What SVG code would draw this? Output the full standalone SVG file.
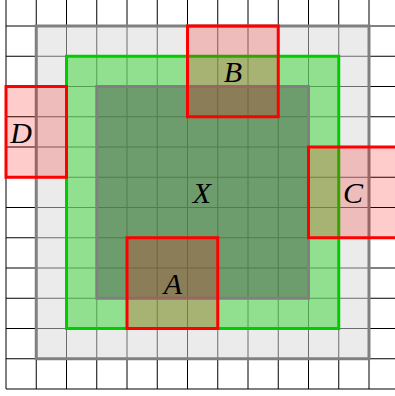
<svg xmlns="http://www.w3.org/2000/svg" width="395" height="396" viewBox="0 0 395 396">
<style>
.grid line{stroke:#000;stroke-width:1}
.outer{fill:#d7d7d7;fill-opacity:0.5;stroke:#808080;stroke-width:3}
.mid{fill:#35d535;fill-opacity:0.5;stroke:#00cc00;stroke-width:3}
.inner{fill:#4a5a4a;fill-opacity:0.5;stroke:#808080;stroke-width:3}
.red{fill:#ff0000;fill-opacity:0.2;stroke:#ff0000;stroke-width:3}
.lbl{font-family:"Liberation Serif","DejaVu Serif",serif;font-style:italic;font-size:30px;fill:#000;text-anchor:middle}
</style>
<rect width="395" height="396" fill="#fff"/>
<g class="grid">
<line x1="6" y1="0" x2="6" y2="389"/>
<line x1="36.25" y1="0" x2="36.25" y2="389"/>
<line x1="66.5" y1="0" x2="66.5" y2="389"/>
<line x1="96.75" y1="0" x2="96.75" y2="389"/>
<line x1="127" y1="0" x2="127" y2="389"/>
<line x1="157.25" y1="0" x2="157.25" y2="389"/>
<line x1="187.5" y1="0" x2="187.5" y2="389"/>
<line x1="217.75" y1="0" x2="217.75" y2="389"/>
<line x1="248" y1="0" x2="248" y2="389"/>
<line x1="278.25" y1="0" x2="278.25" y2="389"/>
<line x1="308.5" y1="0" x2="308.5" y2="389"/>
<line x1="338.75" y1="0" x2="338.75" y2="389"/>
<line x1="369" y1="0" x2="369" y2="389"/>
<line x1="6" y1="26" x2="395" y2="26"/>
<line x1="6" y1="56.25" x2="395" y2="56.25"/>
<line x1="6" y1="86.5" x2="395" y2="86.5"/>
<line x1="6" y1="116.75" x2="395" y2="116.75"/>
<line x1="6" y1="147" x2="395" y2="147"/>
<line x1="6" y1="177.25" x2="395" y2="177.25"/>
<line x1="6" y1="207.5" x2="395" y2="207.5"/>
<line x1="6" y1="237.75" x2="395" y2="237.75"/>
<line x1="6" y1="268" x2="395" y2="268"/>
<line x1="6" y1="298.25" x2="395" y2="298.25"/>
<line x1="6" y1="328.5" x2="395" y2="328.5"/>
<line x1="6" y1="358.75" x2="395" y2="358.75"/>
<line x1="6" y1="389" x2="395" y2="389"/>
</g>
<g id="outer"><rect class="outer" x="36.25" y="26" width="332.75" height="332.75"/></g>
<g id="middle"><rect class="mid" x="66.5" y="56.25" width="272.25" height="272.25"/></g>
<g id="X"><rect class="inner" x="96.75" y="86.5" width="211.75" height="211.75"/><text class="lbl" x="202" y="203">X</text></g>
<g id="B"><rect class="red" x="187.5" y="26" width="90.75" height="90.75"/><text class="lbl" x="233" y="82">B</text></g>
<g id="D"><rect class="red" x="6" y="86.5" width="60.5" height="90.75"/><text class="lbl" x="21" y="143">D</text></g>
<g id="C"><rect class="red" x="308.5" y="147" width="95" height="90.75"/><text class="lbl" x="353" y="203">C</text></g>
<g id="A"><rect class="red" x="127" y="237.75" width="90.75" height="90.75"/><text class="lbl" x="173" y="294">A</text></g>
<g id="connectors"></g>
</svg>
